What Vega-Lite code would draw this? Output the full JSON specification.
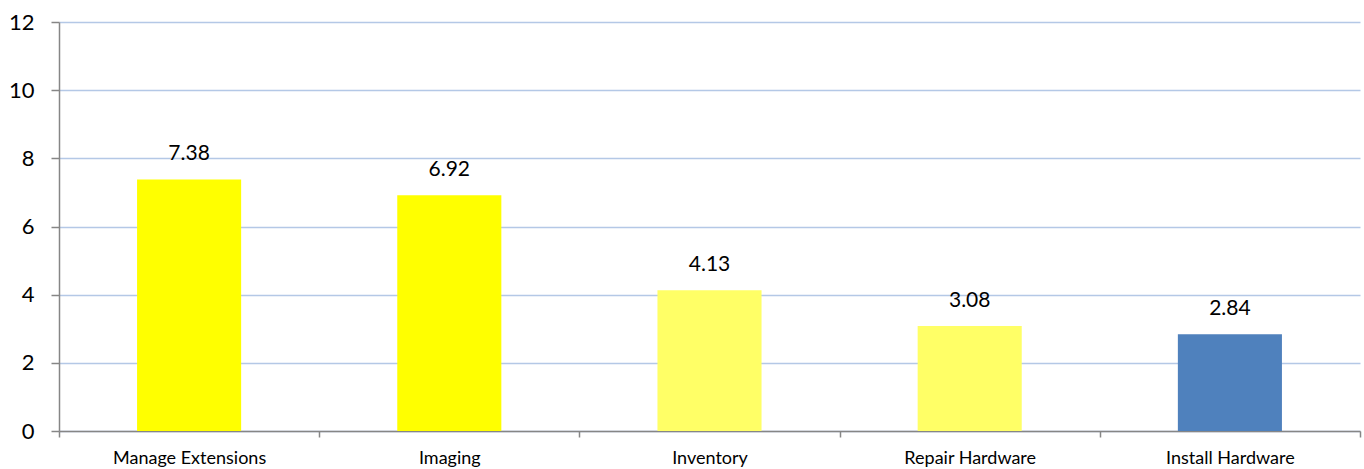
{
  "$schema": "https://vega.github.io/schema/vega-lite/v6.json",
  "width": 1301,
  "height": 409,
  "autosize": {"type": "none"},
  "padding": {"left": 59, "top": 22, "right": 4, "bottom": 38},
  "background": "white",
  "config": {"view": {"stroke": null}, "font": "Lato"},
  "data": {"values": [
    {"task": "Manage Extensions", "hours": 7.38},
    {"task": "Imaging", "hours": 6.92},
    {"task": "Inventory", "hours": 4.13},
    {"task": "Repair Hardware", "hours": 3.08},
    {"task": "Install Hardware", "hours": 2.84}
  ]},
  "encoding": {
    "x": {"field": "task", "type": "nominal", "sort": null,
      "scale": {"paddingInner": 0, "paddingOuter": 0},
      "axis": {"title": null, "labelAngle": 0, "labelFontSize": 18, "labelColor": "#000000", "labelFont": "Lato",
        "domainColor": "#868686", "domainWidth": 1.5, "tickColor": "#868686", "tickSize": 6, "tickWidth": 1.5, "tickBand": "extent",
        "labelPadding": 12, "grid": false}},
    "y": {"field": "hours", "type": "quantitative",
      "scale": {"domain": [0, 12], "nice": false},
      "axis": {"title": null, "values": [0, 2, 4, 6, 8, 10, 12], "labelFontSize": 22, "labelColor": "#000000", "labelFont": "Lato",
        "domainColor": "#868686", "domainWidth": 1.5, "tickColor": "#868686", "tickSize": 8, "tickWidth": 1.5,
        "labelPadding": 17, "grid": true, "gridColor": "#B4C8E6", "gridWidth": 1.5}}
  },
  "layer": [
    {"mark": {"type": "bar", "width": {"band": 0.4}},
     "encoding": {"color": {"field": "task", "type": "nominal", "legend": null,
       "scale": {"domain": ["Manage Extensions", "Imaging", "Inventory", "Repair Hardware", "Install Hardware"],
                 "range": ["#FFFF00", "#FFFF00", "#FFFF66", "#FFFF66", "#4F81BD"]}}}},
    {"mark": {"type": "text", "baseline": "bottom", "dy": -15, "fontSize": 21, "font": "Lato", "color": "#000000"},
     "encoding": {"text": {"field": "hours", "type": "quantitative", "format": ".2f"}}}
  ]
}
